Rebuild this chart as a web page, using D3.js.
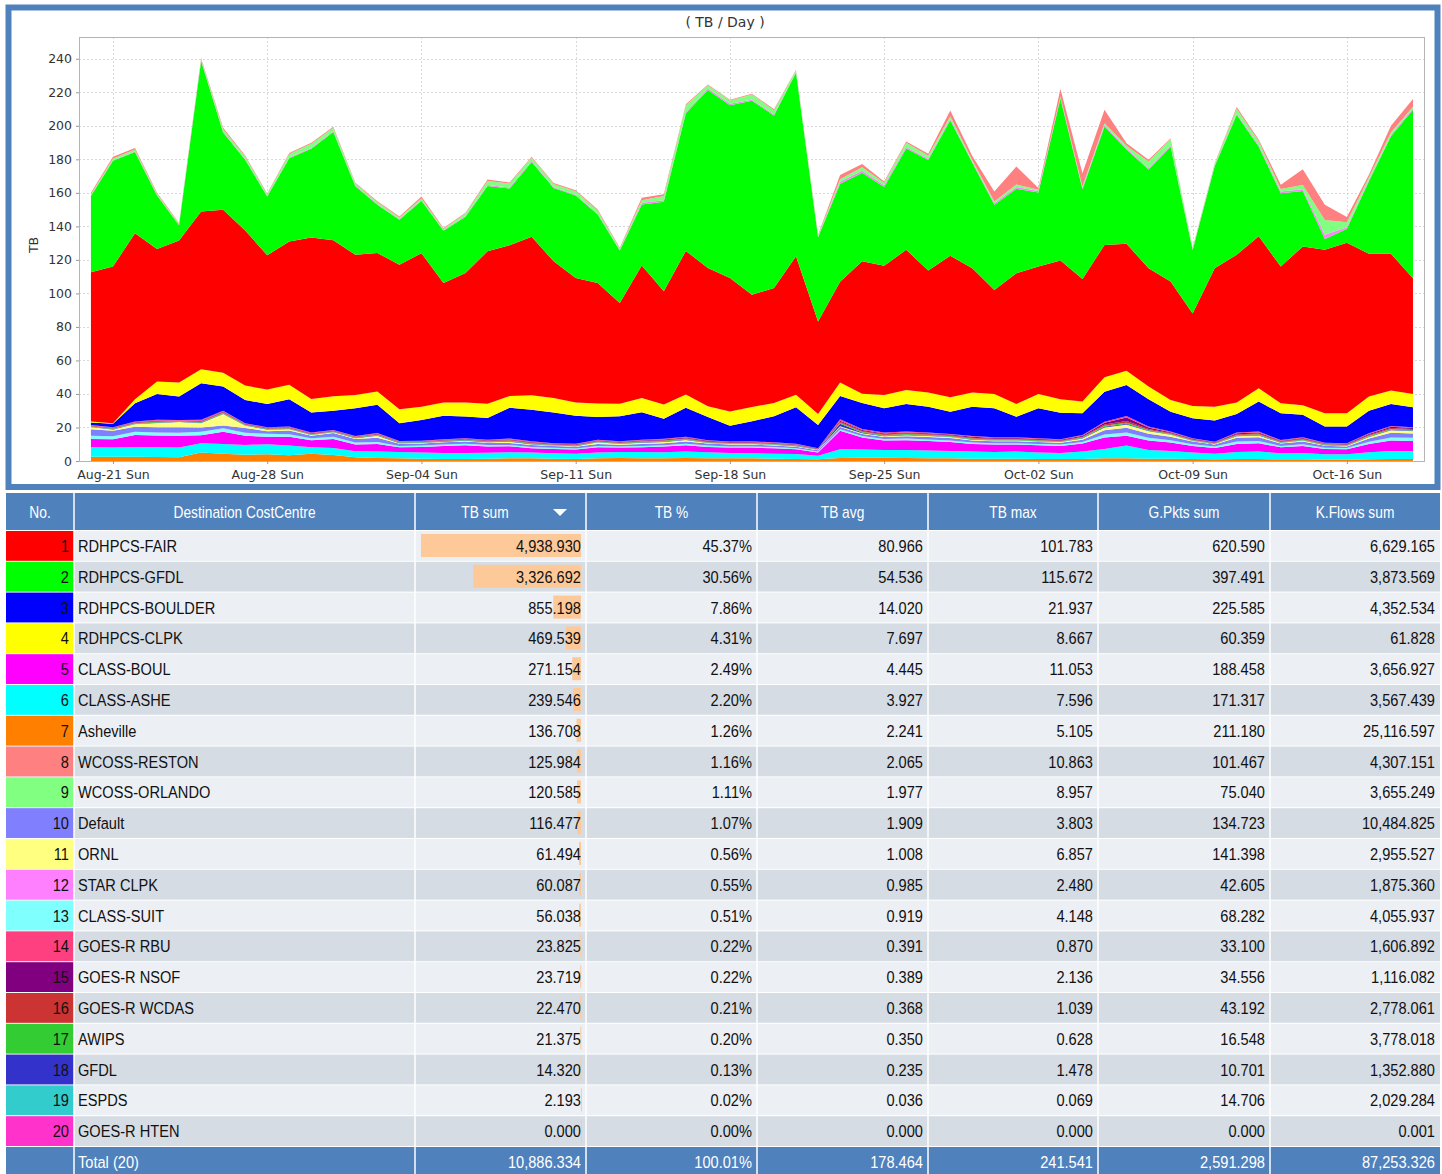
<!DOCTYPE html>
<html>
<head>
<meta charset="utf-8">
<script src="https://cdn.jsdelivr.net/npm/d3@7"></script>
<style>
  body { margin: 0; background: #fff; }
  svg { display: block; }
  .axis text { font-family: "DejaVu Sans", sans-serif; font-size: 12.5px; fill: #333; }
  .axis line { stroke: #999; }
  .tbl text { font-family: "Liberation Sans", Arial, sans-serif; font-size: 17px; }
</style>
</head>
<body>
<svg id="chart" width="1442" height="1174"></svg>
<script>
// daily TB per destination, Aug-20 .. Oct-19 (61 days)
const fair = [89.1,93.5,99.1,79.0,84.7,94.1,97.2,92.5,80.2,85.5, 96.5,93.1,83.6,82.6,86.2,91.6,71.2,77.2,91.0,90.0, 94.6,81.6,74.2,72.0,60.0,79.0,67.6,85.6,82.6,79.6, 67.0,68.6,82.6,55.2,60.2,79.0,77.0,83.6,72.8,84.5, 74.2,62.0,78.0,76.0,82.8,73.1,79.0,75.7,70.6,70.6, 55.2,82.6,88.2,90.6,81.6,94.8,97.6,101.8,85.2,81.6,69.0];
const gfdlR = [45.5,63.1,48.4,32.0,9.2,89.9,46.1,42.3,35.0,49.7, 52.9,64.6,40.9,28.8,26.9,31.2,31.2,33.6,39.0,33.9, 44.6,43.7,49.3,40.8,31.4,36.4,53.3,82.1,106.2,103.2, 115.7,103.0,109.5,50.3,58.5,52.9,47.1,60.5,65.9,80.8, 62.9,50.8,50.4,44.2,96.6,53.6,70.6,56.3,58.9,80.5, 37.8,60.9,83.6,53.5,43.8,33.1,6.4,8.3,43.3,70.1,100.6];
const boulder = [1.5,2.1,10.9,15.5,13.9,21.9,14.4,13.9,13.9,16.3, 11.9,11.5,16.5,16.9,10.6,12.4,14.0,12.9,13.0,18.3, 18.9,18.3,16.8,13.5,14.9,16.3,12.0,17.3,13.9,9.4, 12.0,15.5,21.9,13.9,13.9,15.5,14.5,16.5,15.5,13.3, 17.5,17.3,12.3,17.9,15.9,12.9,17.9,18.5,16.3,11.9, 12.0,12.6,11.1,17.9,15.9,13.4,9.6,10.0,13.5,13.1,11.9];
const clpk = [0.5,0.3,2.4,7.4,8.4,8.3,8.3,8.6,8.6,8.6, 8.0,8.6,8.0,8.0,8.3,7.9,7.9,8.4,8.5,7.0, 8.6,8.6,7.9,8.0,7.6,8.6,8.5,8.0,6.4,8.5, 8.5,8.0,7.4,6.5,8.0,5.6,8.0,8.4,8.4,8.6, 8.4,8.6,7.6,8.6,8.0,7.0,8.6,8.5,7.6,7.0, 7.3,8.3,6.8,8.0,6.0,5.7,7.9,7.9,8.4,8.0,8.0];
const classBoul = [4.9,5.0,7.3,7.0,7.0,4.8,7.4,5.4,4.4,5.2, 4.2,5.4,4.0,4.4,2.8,3.4,4.2,4.6,3.8,3.6, 2.6,2.6,2.4,3.2,2.6,2.8,3.4,3.8,3.2,3.2, 3.4,3.2,2.8,1.9,11.0,7.2,5.6,5.8,5.8,5.4, 4.6,4.4,4.2,4.4,4.2,4.8,6.8,5.8,5.6,5.0, 4.0,3.4,4.8,5.0,3.6,4.2,3.2,3.0,5.0,6.2,6.0];
const classAshe = [5.6,5.4,5.6,5.8,5.8,5.5,5.7,5.8,6.0,5.8, 3.8,4.2,3.6,3.9,3.8,3.6,3.5,3.6,3.5,3.6, 3.4,3.2,3.2,3.4,3.6,3.8,3.6,3.8,3.6,3.2, 3.0,3.0,3.0,2.2,5.2,4.8,4.6,4.8,4.6,4.4, 4.2,4.0,4.2,3.8,3.6,4.4,5.6,7.6,5.2,4.6, 3.8,3.4,4.2,4.4,3.6,3.8,3.2,3.2,4.2,4.8,4.8];
const asheville = [2.6,2.6,2.6,2.4,2.2,5.1,4.4,3.8,4.0,3.4, 4.4,3.6,2.2,1.8,1.6,1.4,1.2,1.2,1.4,1.6, 1.6,1.4,1.2,1.6,1.8,1.6,1.6,1.8,1.6,1.6, 1.6,1.4,1.2,1.0,1.8,2.0,2.0,1.8,1.6,1.6, 1.4,1.4,1.4,1.2,1.2,1.2,1.6,1.6,1.4,1.4, 1.2,1.0,1.2,1.2,1.0,1.0,0.8,0.8,1.0,1.2,1.2];
const reston = [0.8,1.0,0.8,0.5,0.4,0.5,0.8,0.6,0.5,0.6, 0.5,0.6,0.5,0.6,0.6,1.0,0.6,0.5,0.8,0.5, 0.5,0.6,0.6,0.8,0.5,1.5,1.0,0.6,0.5,0.5, 0.5,0.5,0.4,0.4,2.5,2.0,0.8,0.8,1.0,3.5, 2.5,6.0,10.8,1.0,4.5,8.0,8.0,1.5,1.0,0.5, 0.3,0.4,1.0,0.8,2.5,9.5,9.0,3.0,1.5,4.0,4.5];
const orlando = [0.8,1.0,1.2,0.8,0.6,0.8,1.5,1.5,1.0,2.0, 2.5,2.0,1.2,1.0,1.0,1.2,0.8,1.5,2.5,2.5, 2.0,2.0,2.0,1.8,0.8,1.5,2.5,4.0,2.0,2.0, 3.0,2.5,1.0,0.8,1.5,2.0,1.5,2.5,2.0,1.5, 1.0,1.0,1.5,0.8,0.6,0.8,1.0,1.5,4.0,4.0, 0.6,1.0,3.0,2.5,1.5,2.5,8.9,3.0,1.5,1.5,1.0];
const defaultCc = [3.8,3.2,3.0,3.2,3.4,2.6,1.7,2.8,1.6,2.2, 1.5,2.2,2.2,2.6,1.3,1.3,1.4,1.4,1.4,1.2, 1.2,1.0,1.0,1.1,1.0,1.1,1.2,1.4,1.2,1.1, 1.1,1.0,0.9,0.8,1.3,1.2,1.2,1.4,1.4,1.4, 1.3,1.2,1.2,1.1,1.1,1.4,2.6,2.8,2.4,2.0, 1.6,1.2,2.2,2.2,1.4,1.6,1.2,1.0,2.0,2.8,2.6];
const ornl = [1.3,0.8,1.5,2.5,3.0,2.6,6.86,1.4,0.9,0.8, 0.4,0.4,0.4,1.2,0.3,0.3,0.3,0.4,0.3,0.7, 0.4,0.3,0.3,1.0,0.5,0.8,0.7,0.8,0.3,0.4, 0.4,0.3,0.3,0.3,0.4,0.4,0.4,0.5,0.6,0.6, 0.4,0.4,0.4,0.4,0.4,0.7,1.6,1.9,1.6,1.2, 0.4,0.3,0.9,1.0,0.4,0.6,0.3,0.3,0.8,1.5,1.4];
const starClpk = [0.3,0.4,0.4,0.3,0.3,0.4,0.5,0.4,0.3,0.5, 0.5,0.5,0.4,0.4,0.3,0.4,0.3,0.4,0.5,0.5, 0.6,0.5,0.5,0.5,0.3,1.0,1.0,0.8,0.8,0.8, 0.7,0.6,0.5,0.3,1.2,1.2,1.0,0.8,0.8,0.8, 0.6,1.0,1.0,0.8,0.6,0.8,1.0,0.8,0.8,0.6, 0.3,0.4,0.6,0.8,1.0,1.0,2.5,1.0,0.8,0.8,0.8];
const classSuit = [2.0,1.8,2.0,1.8,1.8,2.0,2.0,1.9,1.8,1.6, 1.2,1.3,1.2,1.2,0.8,0.8,0.9,0.9,0.8,0.8, 0.7,0.7,0.7,0.8,0.7,0.8,0.8,0.9,0.8,0.7, 0.7,0.7,0.6,0.5,1.0,0.9,0.9,1.0,0.9,0.9, 0.8,0.8,0.8,0.8,0.8,0.9,1.8,2.0,1.6,1.4, 1.0,0.8,1.4,1.4,0.8,1.0,0.7,0.7,1.3,1.8,1.8];
const goesRbu = [0.3,0.3,0.4,0.4,0.3,0.5,0.4,0.3,0.3,0.4, 0.4,0.3,0.3,0.4,0.3,0.3,0.4,0.4,0.3,0.4, 0.4,0.3,0.3,0.4,0.4,0.3,0.4,0.4,0.3,0.3, 0.4,0.4,0.3,0.2,0.8,0.6,0.5,0.5,0.4,0.4, 0.4,0.4,0.4,0.4,0.3,0.5,0.7,0.9,0.6,0.4, 0.3,0.3,0.4,0.5,0.4,0.4,0.3,0.3,0.4,0.5,0.5];
const goesNsof = [0.2,0.2,0.3,0.3,0.2,0.3,0.4,0.3,0.3,0.3, 0.3,0.3,0.2,0.3,0.2,0.2,0.3,0.3,0.3,0.4, 0.3,0.3,0.3,0.3,0.3,0.4,0.4,0.4,0.4,0.3, 0.3,0.3,0.3,0.2,0.6,0.5,0.5,0.5,0.5,0.4, 0.6,0.5,0.5,0.4,0.4,0.5,0.9,2.1,0.8,0.5, 0.4,0.3,0.6,0.6,0.4,0.5,0.4,0.4,0.6,0.7,0.6];
const goesWcdas = [0.3,0.3,0.3,0.4,0.3,0.4,0.4,0.3,0.3,0.3, 0.3,0.3,0.3,0.3,0.3,0.3,0.3,0.3,0.3,0.4, 0.4,0.3,0.3,0.4,0.3,0.4,0.4,0.4,0.4,0.3, 0.3,0.3,0.3,0.2,0.6,0.5,0.5,0.5,0.4,0.4, 0.5,0.4,0.4,0.4,0.4,0.4,0.8,1.0,0.6,0.4, 0.3,0.3,0.5,0.5,0.4,0.4,0.3,0.3,0.5,0.6,0.5];
const awips = [0.3,0.3,0.3,0.4,0.3,0.4,0.4,0.3,0.3,0.3, 0.3,0.3,0.3,0.3,0.3,0.3,0.3,0.3,0.3,0.4, 0.4,0.3,0.3,0.3,0.3,0.4,0.4,0.4,0.3,0.3, 0.3,0.3,0.3,0.2,0.6,0.5,0.4,0.4,0.4,0.4, 0.4,0.4,0.4,0.4,0.3,0.4,0.6,0.6,0.4,0.4, 0.3,0.3,0.4,0.4,0.3,0.4,0.3,0.3,0.4,0.5,0.4];
const gfdl = [0.2,0.2,0.2,0.3,0.2,0.3,0.3,0.2,0.2,0.2, 0.2,0.2,0.2,0.2,0.2,0.2,0.2,0.2,0.2,0.3, 0.3,0.2,0.2,0.2,0.2,0.3,0.3,0.3,0.2,0.2, 0.2,0.2,0.2,0.1,1.5,0.4,0.3,0.3,0.3,0.2, 0.3,0.2,0.2,0.2,0.2,0.3,0.4,0.5,0.3,0.2, 0.2,0.2,0.3,0.3,0.2,0.2,0.2,0.2,0.3,0.3,0.3];
const espds = [0.03,0.03,0.04,0.04,0.03,0.04,0.04,0.03,0.03,0.03, 0.03,0.03,0.03,0.04,0.03,0.03,0.04,0.04,0.03,0.04, 0.04,0.03,0.03,0.04,0.03,0.04,0.04,0.04,0.03,0.03, 0.03,0.03,0.03,0.02,0.07,0.05,0.04,0.04,0.04,0.04, 0.04,0.04,0.04,0.04,0.03,0.04,0.05,0.06,0.04,0.04, 0.03,0.03,0.04,0.04,0.03,0.04,0.03,0.03,0.04,0.04,0.04];

// table
const names = ["RDHPCS-FAIR","RDHPCS-GFDL","RDHPCS-BOULDER","RDHPCS-CLPK","CLASS-BOUL","CLASS-ASHE","Asheville","WCOSS-RESTON","WCOSS-ORLANDO","Default","ORNL","STAR CLPK","CLASS-SUIT","GOES-R RBU","GOES-R NSOF","GOES-R WCDAS","AWIPS","GFDL","ESPDS","GOES-R HTEN"];
const colors = ["#ff0000","#00ff00","#0000ff","#ffff00","#ff00ff","#00ffff","#ff8000","#ff8080","#80ff80","#8080ff","#ffff80","#ff80ff","#80ffff","#ff4080","#800080","#cc3333","#33cc33","#3333cc","#33cccc","#ff33cc"];
const tbSum = [4938.930,3326.692,855.198,469.539,271.154,239.546,136.708,125.984,120.585,116.477,61.494,60.087,56.038,23.825,23.719,22.470,21.375,14.320,2.193,0.000];
const tbPct = [45.37,30.56,7.86,4.31,2.49,2.20,1.26,1.16,1.11,1.07,0.56,0.55,0.51,0.22,0.22,0.21,0.20,0.13,0.02,0.00];
const tbAvg = [80.966,54.536,14.020,7.697,4.445,3.927,2.241,2.065,1.977,1.909,1.008,0.985,0.919,0.391,0.389,0.368,0.350,0.235,0.036,0.000];
const tbMax = [101.783,115.672,21.937,8.667,11.053,7.596,5.105,10.863,8.957,3.803,6.857,2.480,4.148,0.870,2.136,1.039,0.628,1.478,0.069,0.000];
const gPkts = [620.590,397.491,225.585,60.359,188.458,171.317,211.180,101.467,75.040,134.723,141.398,42.605,68.282,33.100,34.556,43.192,16.548,10.701,14.706,0.000];
const kFlows = [6629.165,3873.569,4352.534,61.828,3656.927,3567.439,25116.597,4307.151,3655.249,10484.825,2955.527,1875.360,4055.937,1606.892,1116.082,2778.061,3778.018,1352.880,2029.284,0.001];
const totals = [10886.334, 100.01, 178.464, 241.541, 2591.298, 87253.326];
const headers = ["No.", "Destination CostCentre", "TB sum", "TB %", "TB avg", "TB max", "G.Pkts sum", "K.Flows sum"];

const daily = [fair, gfdlR, boulder, clpk, classBoul, classAshe, asheville, reston, orlando, defaultCc,
    ornl, starClpk, classSuit, goesRbu, goesNsof, goesWcdas, awips, gfdl, espds];
// bottom -> top, by rank index
const stackOrder = [6, 5, 4, 12, 9, 10, 18, 17, 16, 15, 14, 13, 2, 3, 0, 1, 11, 8, 7];

const days = d3.timeDay.range(new Date(2016, 7, 20), new Date(2016, 9, 20));

const svg = d3.select("#chart");
const blue = "#4f81bd";

// chart panel frame
svg.append("rect")
    .attr("x", 8.5).attr("y", 7.5)
    .attr("width", 1429).attr("height", 479.5)
    .attr("fill", "#fff")
    .attr("stroke", blue).attr("stroke-width", 6);

let plot = {left: 79, right: 1424, top: 37, bottom: 461};

let x = d3.scaleTime()
    .domain([d3.timeHour.offset(days[0], -13), d3.timeHour.offset(days[days.length - 1], 12)])
    .range([plot.left, plot.right]);
let y = d3.scaleLinear().domain([0, 253]).range([plot.bottom, plot.top]);

let sundays = d3.timeWeek.range(days[0], days[days.length - 1]);
let yTicks = d3.range(0, 241, 20);

// grid
let grid = svg.append("g").attr("stroke", "#d9d9d9").attr("stroke-dasharray", "2,2");
grid.selectAll(".hg").data(yTicks.slice(1)).enter().append("line")
    .attr("x1", plot.left).attr("x2", plot.right)
    .attr("y1", d => Math.round(y(d)) + 0.5).attr("y2", d => Math.round(y(d)) + 0.5);
grid.selectAll(".vg").data(sundays).enter().append("line")
    .attr("x1", d => Math.round(x(d)) + 0.5).attr("x2", d => Math.round(x(d)) + 0.5)
    .attr("y1", plot.top).attr("y2", plot.bottom);

// stacked areas
let rows = days.map(function(d, i) {
    let r = {date: d};
    stackOrder.forEach(k => r[k] = daily[k][i]);
    return r;
});
let stacked = d3.stack().keys(stackOrder)(rows);
let area = d3.area()
    .x(d => x(d.data.date))
    .y0(d => y(d[0]))
    .y1(d => y(d[1]));

svg.append("g").selectAll("path").data(stacked).enter().append("path")
    .attr("d", area)
    .attr("fill", d => colors[d.key]);

svg.append("rect")
    .attr("x", plot.left + 0.5).attr("y", plot.top + 0.5)
    .attr("width", plot.right - plot.left).attr("height", plot.bottom - plot.top)
    .attr("fill", "none").attr("stroke", "#b5b5b5");

// axes
let yAxis = d3.axisLeft(y).tickValues(yTicks).tickSize(3).tickPadding(4);
svg.append("g").attr("class", "axis")
    .attr("transform", "translate(" + plot.left + ",0)")
    .call(yAxis)
    .call(g => g.select(".domain").remove());

let xAxis = d3.axisBottom(x).tickValues(sundays).tickSize(3).tickPadding(6)
    .tickFormat(d3.timeFormat("%b-%d %a"));
svg.append("g").attr("class", "axis")
    .attr("transform", "translate(0," + plot.bottom + ")")
    .call(xAxis)
    .call(g => g.select(".domain").remove());

svg.append("text")
    .attr("x", 725).attr("y", 27)
    .attr("text-anchor", "middle")
    .style("font-family", "DejaVu Sans, sans-serif").style("font-size", "14px").attr("fill", "#333")
    .text("( TB / Day )");

svg.append("text")
    .attr("transform", "translate(38,245) rotate(-90)")
    .attr("text-anchor", "middle")
    .style("font-family", "DejaVu Sans, sans-serif").style("font-size", "12.5px").attr("fill", "#333")
    .text("TB");

// table
let colEdges = [6, 74, 415, 586, 757, 928, 1098, 1270, 1440];
let tbl = svg.append("g").attr("class", "tbl");
let headTop = 493, headH = 37, rowTop = 531, rowH = 30.8;

// narrow text: the table font is condensed, squeeze it horizontally
function cell(px, py, str, anchor, fill) {
    return tbl.append("text")
        .attr("transform", "translate(" + px + "," + py + ") scale(0.86,1)")
        .attr("text-anchor", anchor)
        .attr("fill", fill)
        .text(str);
}

tbl.append("rect").attr("x", 6).attr("y", headTop).attr("width", 1434).attr("height", headH).attr("fill", blue);
headers.forEach(function(h, i) {
    let cx = (colEdges[i] + colEdges[i + 1]) / 2;
    if (i === 2) cx = 485;
    cell(cx, headTop + 25, h, "middle", "#fff").style("font-size", "16px");
});
tbl.append("path")
    .attr("d", "M553,509 L567,509 L560,516 Z")
    .attr("fill", "#fff");

let fmt = d3.format(",.3f");
let pct = v => v.toFixed(2) + "%";
let barW = d3.scaleLinear().domain([0, d3.max(tbSum)]).range([0, 160]);

names.forEach(function(name, i) {
    let top = rowTop + i * rowH;
    let base = top + 21;
    tbl.append("rect").attr("x", 6).attr("y", top).attr("width", 1434).attr("height", rowH - 1)
        .attr("fill", i % 2 === 0 ? "#eceff3" : "#d5dce4");
    tbl.append("rect").attr("x", 6).attr("y", top).attr("width", 68).attr("height", rowH - 1)
        .attr("fill", colors[i]);
    tbl.append("rect").attr("x", 581 - barW(tbSum[i])).attr("y", top + 3)
        .attr("width", Math.max(barW(tbSum[i]), 1)).attr("height", 23)
        .attr("fill", "#fdc999");
    cell(69, base, i + 1, "end", "#111");
    cell(78, base, name, "start", "#111");
    let vals = [fmt(tbSum[i]), pct(tbPct[i]), fmt(tbAvg[i]), fmt(tbMax[i]), fmt(gPkts[i]), fmt(kFlows[i])];
    vals.forEach(function(v, j) {
        cell(colEdges[j + 3] - 5, base, v, "end", "#111");
    });
});

let totTop = rowTop + names.length * rowH;
tbl.append("rect").attr("x", 6).attr("y", totTop).attr("width", 1434).attr("height", 40).attr("fill", blue);
cell(78, totTop + 21, "Total (" + names.length + ")", "start", "#fff");
[fmt(totals[0]), pct(totals[1]), fmt(totals[2]), fmt(totals[3]), fmt(totals[4]), fmt(totals[5])].forEach(function(v, j) {
    cell(colEdges[j + 3] - 5, totTop + 21, v, "end", "#fff");
});

// white column separators
tbl.selectAll(".sep").data(colEdges.slice(1, -1)).enter().append("line")
    .attr("x1", d => d).attr("x2", d => d)
    .attr("y1", headTop).attr("y2", 1174)
    .attr("stroke", "#fff").attr("stroke-width", 1.5);
</script>
</body>
</html>
